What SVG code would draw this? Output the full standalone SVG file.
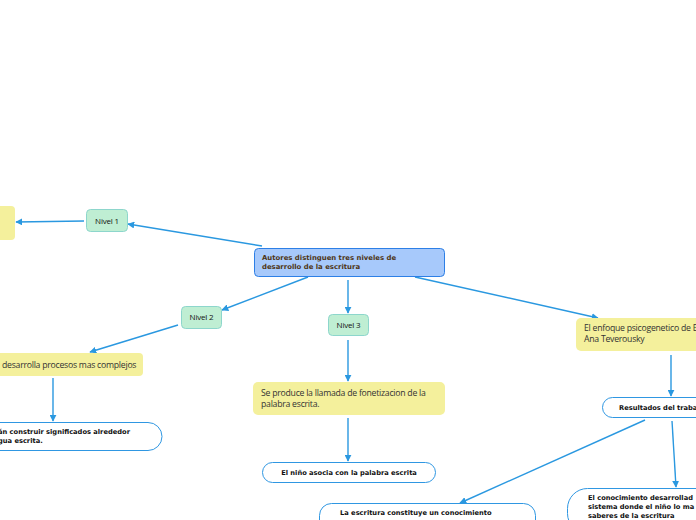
<svg xmlns="http://www.w3.org/2000/svg" width="696" height="520" viewBox="0 0 696 520">
<defs>
<style>
.y{fill:#f4f09c;stroke:none}
.g{fill:#bfeed3;stroke:#8dd6cc;stroke-width:1}
.w{fill:#fff;stroke:#2f97e2;stroke-width:1}
.r{fill:#a7c9fb;stroke:#2d7fe6;stroke-width:1}
.ty{font-family:"Open Sans",sans-serif;font-size:8.7px;fill:#333;letter-spacing:-0.25px}
.tg{font-family:"Open Sans",sans-serif;font-size:8px;fill:#111;letter-spacing:-0.2px}
.tw{font-family:"DejaVu Sans",sans-serif;font-weight:bold;font-size:6.7px;fill:#111}
.tr{font-family:"DejaVu Sans",sans-serif;font-weight:bold;font-size:6.9px;fill:#4e3515}
.c{fill:none;stroke:#2a98e0;stroke-width:1.4;marker-end:url(#a)}
</style>
<marker id="a" viewBox="0 0 10 10" refX="9" refY="5" markerWidth="5" markerHeight="5" orient="auto" markerUnits="strokeWidth">
<path d="M0,0 L10,5 L0,10 z" fill="#2a98e0"/>
</marker>
</defs>
<rect width="696" height="520" fill="#fff"/>
<g id="connectors">
<path class="c" d="M262,246 L128,224"/>
<path class="c" d="M84,221 L16,222"/>
<path class="c" d="M308,277 L222,310"/>
<path class="c" d="M178,325 L90,352"/>
<path class="c" d="M53,378 L53,421"/>
<path class="c" d="M348,280 L348,313"/>
<path class="c" d="M348,340 L348,381"/>
<path class="c" d="M348,418 L348,461"/>
<path class="c" d="M415,277 L598,318"/>
<path class="c" d="M671,355 L671,396"/>
<path class="c" d="M645,420 L460,503"/>
<path class="c" d="M672,421 L676,487"/>
</g>
<g id="n-left-top"><rect class="y" x="-10" y="206" width="25" height="34" rx="4"/></g>
<g id="n-nivel1"><rect class="g" x="86.5" y="209.5" width="41" height="22" rx="4"/><text class="tg" x="107" y="223.5" text-anchor="middle">Nivel 1</text></g>
<g id="n-root"><rect class="r" x="254.5" y="248.5" width="190" height="28" rx="4"/><text class="tr" x="262" y="260">Autores distinguen tres niveles de</text><text class="tr" x="262" y="269">desarrollo de la escritura</text></g>
<g id="n-nivel2"><rect class="g" x="181.5" y="306.5" width="40" height="22" rx="4"/><text class="tg" x="201.5" y="320" text-anchor="middle">Nivel 2</text></g>
<g id="n-nivel3"><rect class="g" x="328.5" y="314.5" width="40" height="21" rx="4"/><text class="tg" x="348.5" y="327.5" text-anchor="middle">Nivel 3</text></g>
<g id="n-complejos"><rect class="y" x="-10" y="353" width="153" height="23" rx="4"/><text class="ty" x="2" y="367.5">desarrolla procesos mas complejos</text></g>
<g id="n-significados"><rect class="w" x="-20" y="422.5" width="182" height="28" rx="14"/><text class="tw" x="-2" y="434">án construir significados alrededor</text><text class="tw" x="-2" y="443">gua escrita.</text></g>
<g id="n-fonetizacion"><rect class="y" x="253" y="382" width="192" height="33" rx="5"/><text class="ty" x="261" y="396">Se produce la llamada de fonetizacion de la</text><text class="ty" x="261" y="407">palabra escrita.</text></g>
<g id="n-asocia"><rect class="w" x="262.5" y="462.5" width="173" height="20" rx="10"/><text class="tw" x="349" y="474.5" text-anchor="middle">El niño asocia con la palabra escrita</text></g>
<g id="n-enfoque"><rect class="y" x="576" y="318" width="130" height="33" rx="5"/><text class="ty" x="584" y="331">El enfoque psicogenetico de E</text><text class="ty" x="584" y="342">Ana Teverousky</text></g>
<g id="n-resultados"><rect class="w" x="602.5" y="397.5" width="110" height="20" rx="10"/><text class="tw" x="619" y="410">Resultados del traba</text></g>
<g id="n-escritura"><rect class="w" x="319.5" y="503.5" width="216" height="30" rx="12"/><text class="tw" x="340" y="515">La escritura constituye un conocimiento</text></g>
<g id="n-conocimiento"><rect class="w" x="567.5" y="488.5" width="150" height="45" rx="20"/><text class="tw" x="588" y="500">El conocimiento desarrollad</text><text class="tw" x="588" y="509">sistema donde el niño lo ma</text><text class="tw" x="588" y="518">saberes de la escritura</text></g>
</svg>
